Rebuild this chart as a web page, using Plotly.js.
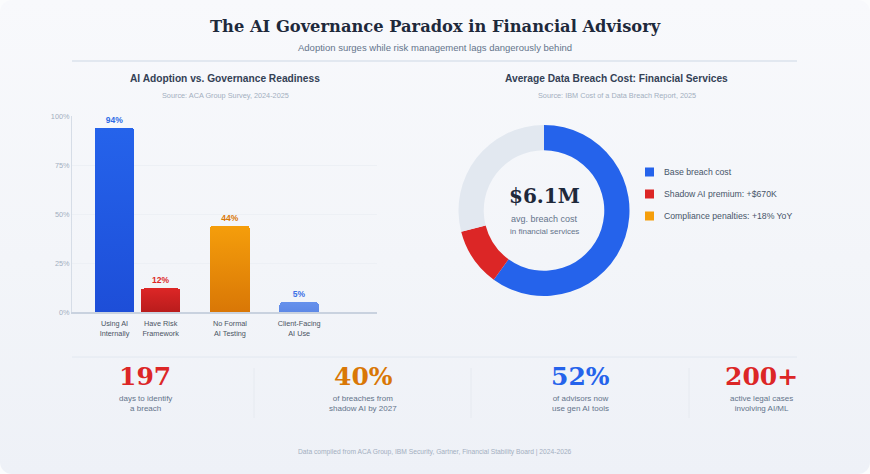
<!DOCTYPE html>
<html>
<head>
<meta charset="utf-8">
<script src="https://cdn.plot.ly/plotly-3.0.1.min.js"></script>
<style>
html,body{margin:0;padding:0;background:#fbfcfd;}
#wrap{width:870px;height:474px;border-radius:12px;overflow:hidden;background:linear-gradient(180deg,#f8f9fc 0%,#f3f5f9 55%,#eef1f7 100%);}
#chart{width:870px;height:474px;}
</style>
</head>
<body>
<div id="wrap"><div id="chart"></div></div>
<script>
// ---------- data ----------
const barCategories = ["Using AI<br>Internally", "Have Risk<br>Framework", "No Formal<br>AI Testing", "Client-Facing<br>AI Use"];
const barValues = [94, 12, 44, 5];
const yTickValues = [0, 25, 50, 75, 100];
const yTickLabels = ["0%", "25%", "50%", "75%", "100%"];

const donutLabels = ["Base breach cost", "Shadow AI premium", "Other"];
const donutValues = [60, 11, 29];
const legendLabels = ["Base breach cost", "Shadow AI premium: +$670K", "Compliance penalties: +18% YoY"];

const statValues = ["197", "40%", "52%", "200+"];
const statCaptions = ["days to identify<br>a breach", "of breaches from<br>shadow AI by 2027", "of advisors now<br>use gen AI tools", "active legal cases<br>involving AI/ML"];

// ---------- styles / layout ----------
const W = 870, H = 474;
const X = px => px / W;
const Y = py => 1 - py / H;
const SANS = "Liberation Sans, Arial, sans-serif";
const SERIF = "DejaVu Serif, Georgia, serif";

const barGrad = [["#2563eb", "#1d4ed8"], ["#dc2626", "#b91c1c"], ["#f59e0b", "#d97706"], ["#6691ec", "#5d88e6"]];
const labelColors = ["#2f6be6", "#dc2626", "#d97706", "#3b6fe6"];
const gapSlots = [1, 2, 2]; // empty category slots placed before bars 2..4
const donutColors = ["#2563eb", "#dc2626", "#e2e8f0"];
const legendColors = ["#2563eb", "#dc2626", "#f59e0b"];
const statColors = ["#dc2626", "#d97706", "#2563eb", "#dc2626"];
const statX = [145, 363, 580, 761];

// build category axis with spacer slots
const axisCats = [], axisVals = [], axisText = [], axisIdx = [];
barCategories.forEach((c, i) => {
  if (i > 0) {
    for (let k = 0; k < gapSlots[i - 1]; k++) {
      axisCats.push("gap" + axisCats.length);
      axisVals.push(null); axisText.push(""); axisIdx.push(-1);
    }
  }
  axisCats.push(c); axisVals.push(barValues[i]); axisText.push(barValues[i] + "%"); axisIdx.push(i);
});
const barTextColors = axisIdx.map(i => i >= 0 ? labelColors[i] : "#000");
const barFill = axisIdx.map(i => i >= 0 ? barGrad[i][0] : "#000");

const barTrace = {
  type: "bar",
  x: axisCats,
  y: axisVals,
  text: axisText,
  textposition: "outside",
  cliponaxis: false,
  textfont: {family: SANS, size: 8.5, weight: 700, color: barTextColors},
  width: 1.71,
  marker: {color: barFill, cornerradius: 3, line: {width: 0}},
  hoverinfo: "skip",
  xaxis: "x", yaxis: "y",
  showlegend: false
};

const pieTrace = {
  type: "pie",
  labels: donutLabels,
  values: donutValues,
  hole: 0.705,
  sort: false,
  direction: "clockwise",
  rotation: 0,
  textinfo: "none",
  hoverinfo: "skip",
  marker: {colors: donutColors, line: {width: 0}},
  domain: {x: [X(458.5), X(629.5)], y: [Y(296), Y(125)]},
  showlegend: false
};

const ann = [];
function txt(text, x, y, size, color, opts) {
  ann.push(Object.assign({
    text: text, x: X(x), y: Y(y), xref: "paper", yref: "paper",
    showarrow: false, xanchor: "center", yanchor: "middle",
    font: {family: SANS, size: size, color: color}
  }, opts || {}));
}
txt("The AI Governance Paradox in Financial Advisory", 435, 27, 16.3, "#1e293b", {font: {family: SERIF, size: 16.3, weight: 700, color: "#1e293b"}});
txt("Adoption surges while risk management lags dangerously behind", 435, 47, 9.5, "#64748b");
txt("AI Adoption vs. Governance Readiness", 225, 79, 10.2, "#334155", {font: {family: SANS, size: 10.2, weight: 700, color: "#334155"}});
txt("Source: ACA Group Survey, 2024-2025", 225, 95, 7.3, "#a3afc0");
txt("Average Data Breach Cost: Financial Services", 616.5, 79, 10.2, "#334155", {font: {family: SANS, size: 10.2, weight: 700, color: "#334155"}});
txt("Source: IBM Cost of a Data Breach Report, 2025", 616.5, 95, 7.3, "#a3afc0");

txt("$6.1M", 544, 196, 20, "#1e293b", {font: {family: SERIF, size: 20, weight: 700, color: "#1e293b"}});
txt("avg. breach cost", 544, 219, 9, "#64748b");
txt("in financial services", 544, 231.5, 8, "#64748b");

const legendY = [172, 194, 216];
const shapes = [];
legendLabels.forEach((l, i) => {
  txt(l, 662, legendY[i], 8.7, "#475569", {xanchor: "left"});
  shapes.push({type: "rect", xref: "paper", yref: "paper",
    x0: X(645), x1: X(654), y0: Y(legendY[i] + 4.5), y1: Y(legendY[i] - 4.5),
    fillcolor: legendColors[i], line: {width: 0}});
});

statValues.forEach((v, i) => {
  txt(v, statX[i], 376, 25, statColors[i], {font: {family: SERIF, size: 25, weight: 700, color: statColors[i]}});
  txt(statCaptions[i], statX[i], 403, 8, "#64748b");
});
txt("Data compiled from ACA Group, IBM Security, Gartner, Financial Stability Board | 2024-2026", 435, 452, 6.7, "#a3afc0");

shapes.push({type: "line", xref: "paper", yref: "paper", x0: X(72), x1: X(797), y0: Y(61), y1: Y(61), line: {color: "#e2e8f0", width: 2}});
shapes.push({type: "line", xref: "paper", yref: "paper", x0: X(72), x1: X(797), y0: Y(357), y1: Y(357), line: {color: "#e2e8f0", width: 1}});
[254, 471, 689].forEach(x => {
  shapes.push({type: "line", xref: "paper", yref: "paper", x0: X(x), x1: X(x), y0: Y(368), y1: Y(418), line: {color: "#e6eaf0", width: 1}});
});

const layout = {
  width: W, height: H,
  margin: {l: 0, r: 0, t: 0, b: 0},
  paper_bgcolor: "rgba(0,0,0,0)",
  plot_bgcolor: "rgba(0,0,0,0)",
  showlegend: false,
  bargap: 0,
  xaxis: {
    domain: [X(72), X(376.5)],
    type: "category",
    categoryorder: "array",
    categoryarray: axisCats,
    tickvals: barCategories,
    ticktext: barCategories,
    tickangle: 0,
    range: [-1.84, 11.35],
    showgrid: false, zeroline: false,
    showline: true, linecolor: "#c9d2df", linewidth: 1.5,
    ticks: "", ticklabelstandoff: 4,
    tickfont: {family: SANS, size: 7.3, color: "#4b5563"},
    fixedrange: true
  },
  yaxis: {
    domain: [Y(312), Y(116)],
    range: [0, 100],
    tickvals: yTickValues,
    ticktext: yTickLabels,
    showgrid: true, gridcolor: "#edf0f5", gridwidth: 1,
    zeroline: false,
    showline: true, linecolor: "#d6dde7", linewidth: 1,
    ticks: "",
    tickfont: {family: SANS, size: 7.3, color: "#a3afc0"},
    fixedrange: true
  },
  annotations: ann,
  shapes: shapes
};

Plotly.newPlot("chart", [barTrace, pieTrace], layout, {displayModeBar: false, staticPlot: true}).then(gd => {
  const NS = "http://www.w3.org/2000/svg";
  const svg = gd.querySelector("svg.main-svg");
  let defs = svg.querySelector("defs");
  if (!defs) { defs = document.createElementNS(NS, "defs"); svg.insertBefore(defs, svg.firstChild); }
  barGrad.forEach((g, i) => {
    const lg = document.createElementNS(NS, "linearGradient");
    lg.setAttribute("id", "barGrad" + i);
    lg.setAttribute("x1", "0"); lg.setAttribute("y1", "0");
    lg.setAttribute("x2", "0"); lg.setAttribute("y2", "1");
    [[0, g[0]], [1, g[1]]].forEach(s => {
      const st = document.createElementNS(NS, "stop");
      st.setAttribute("offset", s[0]);
      st.setAttribute("stop-color", s[1]);
      lg.appendChild(st);
    });
    defs.appendChild(lg);
  });
  gd.querySelectorAll(".barlayer .point").forEach(pt => {
    const d = pt.__data__;
    if (!d || d.i === undefined) return;
    const idx = axisIdx[d.i];
    const path = pt.querySelector("path");
    if (idx >= 0 && path) path.style.fill = "url(#barGrad" + idx + ")";
  });
});
</script>
</body>
</html>
